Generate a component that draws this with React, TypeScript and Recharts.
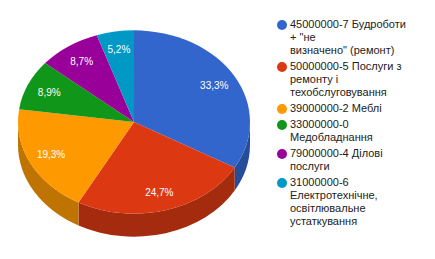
import React from 'react';
import { PieChart, Pie, Cell, Legend } from 'recharts';

const codes = ['45000000-7', '50000000-5', '39000000-2', '33000000-0', '79000000-4', '31000000-6'];
const shares = [33.3, 24.7, 19.3, 8.9, 8.7, 5.2];
const legendLines = [
	['45000000-7 Будроботи', '+ "не', 'визначено" (ремонт)'],
	['50000000-5 Послуги з', 'ремонту і', 'техобслуговування'],
	['39000000-2 Меблі'],
	['33000000-0', 'Медобладнання'],
	['79000000-4 Ділові', 'послуги'],
	['31000000-6', 'Електротехнічне,', 'освітлювальне', 'устаткування'],
];
const colors = ['#3366cc', '#dc3912', '#ff9900', '#109618', '#990099', '#0099c6'];
const sideColors = ['#264d99', '#a52b0e', '#bf7300', '#0c7012', '#730073', '#007394'];

const data = codes.map((name, i) => ({ name, value: shares[i] }));

const RAD = Math.PI / 180;
const TILT = 0.79;
const DEPTH = 23;
const FONT = 'Arial, "Liberation Sans", sans-serif';

// elliptical slice with a front wall, so the pie looks tilted
const Slice3D = (props: any) => {
	const { cx, cy, outerRadius, startAngle, endAngle, fill } = props;
	const rx = outerRadius;
	const ry = outerRadius * TILT;
	const pt = (a: number, dy = 0) => [cx + rx * Math.cos(a * RAD), cy - ry * Math.sin(a * RAD) + dy];
	const hi = Math.max(startAngle, endAngle);
	const lo = Math.min(startAngle, endAngle);
	const large = hi - lo > 180 ? 1 : 0;
	const [x1, y1] = pt(hi);
	const [x2, y2] = pt(lo);
	const top = `M${cx},${cy}L${x1},${y1}A${rx},${ry} 0 ${large} 1 ${x2},${y2}Z`;

	let side = null;
	const a1 = Math.min(hi, 0);
	const a2 = Math.max(lo, -180);
	if (a1 > a2) {
		const [sx1, sy1] = pt(a1);
		const [sx2, sy2] = pt(a2);
		const d = `M${sx1},${sy1}A${rx},${ry} 0 0 1 ${sx2},${sy2}L${sx2},${sy2 + DEPTH}A${rx},${ry} 0 0 0 ${sx1},${sy1 + DEPTH}Z`;
		side = <path d={d} fill={sideColors[colors.indexOf(fill)] ?? fill} />;
	}
	return (
		<g>
			{side}
			<path d={top} fill={fill} />
		</g>
	);
};

const renderLabel = (p: any) => {
	const { cx, cy, midAngle, outerRadius, value } = p;
	const x = cx + outerRadius * 0.8 * Math.cos(midAngle * RAD);
	const y = cy - outerRadius * TILT * 0.8 * Math.sin(midAngle * RAD);
	return (
		<text x={x} y={y} fill="#fff" fontSize={10} fontFamily={FONT} textAnchor="middle" dominantBaseline="central">
			{`${value.toFixed(1).replace('.', ',')}%`}
		</text>
	);
};

// legend keeps the data order (recharts sorts its payload by name)
const renderLegend = () => (
	<div style={{ fontFamily: FONT, fontSize: 11, color: '#222', lineHeight: '13px' }}>
		{legendLines.map((lines, i) => (
			<div key={codes[i]} style={{ position: 'relative', paddingLeft: 14, marginBottom: 3 }}>
				<span
					style={{
						position: 'absolute',
						left: 1,
						top: 1.5,
						width: 10,
						height: 10,
						borderRadius: '50%',
						background: colors[i],
					}}
				/>
				{lines.map((line, j) => (
					<div key={j} style={{ whiteSpace: 'nowrap' }}>{line}</div>
				))}
			</div>
		))}
	</div>
);

const App = () => {
	return (
		<div style={{ position: 'absolute', left: 0, top: 0 }}>
			<PieChart width={435} height={259} margin={{ top: 0, right: 0, bottom: 0, left: 0 }}>
				<Pie
					data={data}
					dataKey="value"
					nameKey="name"
					cx={134}
					cy={122}
					outerRadius={116}
					startAngle={90}
					endAngle={-270}
					stroke="none"
					labelLine={false}
					label={renderLabel}
					shape={Slice3D}
					isAnimationActive={false}
				>
					{data.map((d, i) => (
						<Cell key={d.name} fill={colors[i]} />
					))}
				</Pie>
				<Legend
					layout="vertical"
					align="right"
					verticalAlign="top"
					content={renderLegend}
					wrapperStyle={{ left: 276, top: 18, width: 150 }}
				/>
			</PieChart>
		</div>
	);
};

export default App;
